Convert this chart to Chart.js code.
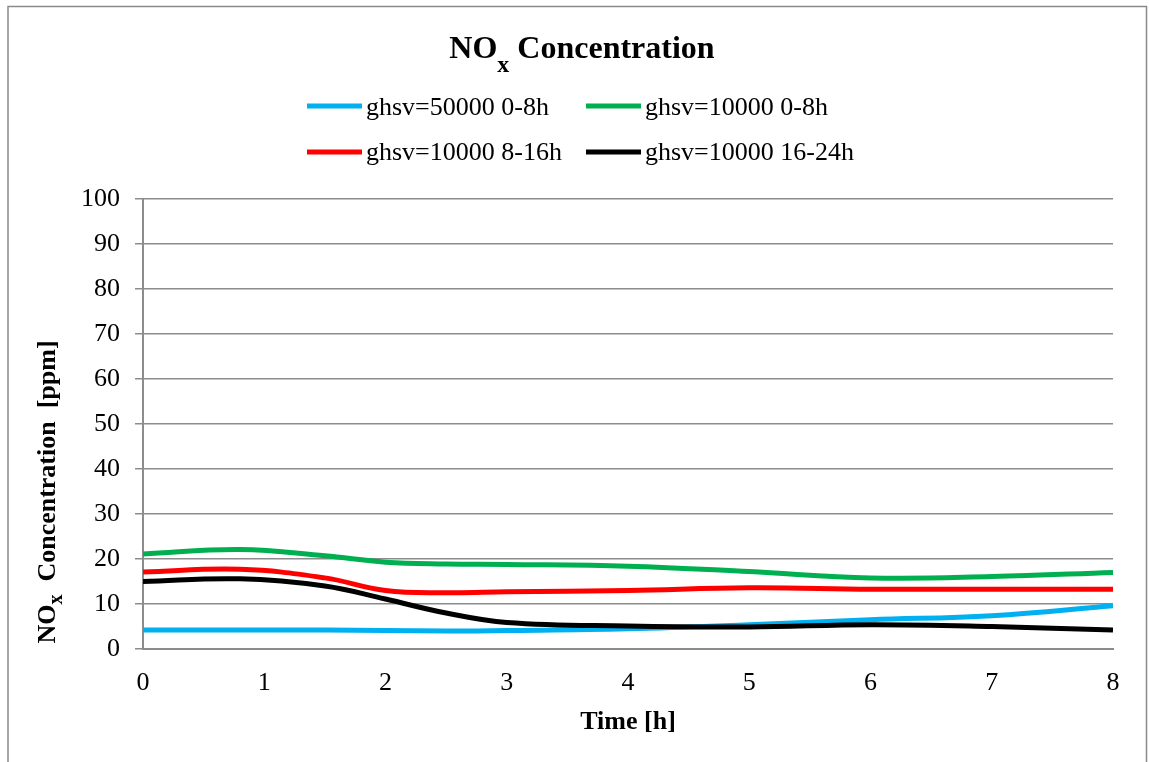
<!DOCTYPE html>
<html>
<head>
<meta charset="utf-8">
<title>NOx Concentration</title>
<script src="https://cdn.jsdelivr.net/npm/chart.js@4.4.1/dist/chart.umd.min.js"></script>
<style>
  html, body { margin: 0; padding: 0; background: #fff; }
  canvas { display: block; }
</style>
</head>
<body>
<canvas id="noxChart" width="1149" height="762"></canvas>
<script>
// Chart data
const times = [0, 0.8, 1.5, 2, 2.5, 3, 4, 5, 6, 7, 8];
const seriesLabels = ['ghsv=50000 0-8h', 'ghsv=10000 0-8h', 'ghsv=10000 8-16h', 'ghsv=10000 16-24h'];
const ghsv50000_0_8 = [4.2, 4.2, 4.2, 4.1, 4.0, 4.1, 4.5, 5.4, 6.5, 7.4, 9.6];
const ghsv10000_0_8 = [21.1, 22.1, 20.7, 19.3, 18.9, 18.8, 18.4, 17.2, 15.8, 16.1, 17.0];
const ghsv10000_8_16 = [17.1, 17.7, 15.8, 13.0, 12.5, 12.7, 13.0, 13.6, 13.3, 13.3, 13.3];
const ghsv10000_16_24 = [15.0, 15.6, 14.0, 11.1, 8.0, 5.9, 5.1, 4.9, 5.4, 5.0, 4.2];
const xTickLabels = ['0', '1', '2', '3', '4', '5', '6', '7', '8'];
const yTickLabels = ['0', '10', '20', '30', '40', '50', '60', '70', '80', '90', '100'];

const seriesValues = [ghsv50000_0_8, ghsv10000_0_8, ghsv10000_8_16, ghsv10000_16_24];
const seriesColors = ['#00b0f0', '#00b050', '#ff0000', '#000000'];

const FONT = '"Liberation Serif", "Times New Roman", serif';
const GRID = '#8c8c8c';

function toPoints(values) {
  return values.map((v, i) => ({ x: times[i], y: v }));
}

// text with a subscript part, drawn on the alphabetic baseline
function subText(ctx, parts, cx, baseY) {
  let total = 0;
  parts.forEach(p => { ctx.font = p.font; p.w = ctx.measureText(p.text).width; total += p.w; });
  let x = cx - total / 2;
  parts.forEach(p => {
    ctx.font = p.font;
    ctx.fillText(p.text, x, baseY + (p.dy || 0));
    x += p.w;
  });
}

// frame, title, legend and axis titles
const decorations = {
  id: 'decorations',
  afterDraw(chart) {
    const ctx = chart.ctx;
    const area = chart.chartArea;
    ctx.save();

    // outer frame
    ctx.strokeStyle = '#8a8a8a';
    ctx.lineWidth = 1.5;
    ctx.strokeRect(8, 6.5, 1138.5, 800);

    ctx.fillStyle = '#000';
    ctx.textBaseline = 'alphabetic';
    ctx.textAlign = 'left';

    // title
    subText(ctx, [
      { text: 'NO', font: 'bold 32px ' + FONT },
      { text: 'x', font: 'bold 24px ' + FONT, dy: 14 },
      { text: ' Concentration', font: 'bold 32px ' + FONT }
    ], 582, 58);

    // legend: 2 x 2
    ctx.font = '26px ' + FONT;
    const colX = [307, 586];
    const rowLine = [106, 152];
    const rowText = [115, 160];
    chart.data.datasets.forEach((ds, i) => {
      const x = colX[i % 2];
      const r = Math.floor(i / 2);
      ctx.strokeStyle = ds.borderColor;
      ctx.lineWidth = 5;
      ctx.beginPath();
      ctx.moveTo(x, rowLine[r]);
      ctx.lineTo(x + 55, rowLine[r]);
      ctx.stroke();
      ctx.fillText(ds.label, x + 59, rowText[r]);
    });

    // x axis title
    ctx.font = 'bold 26px ' + FONT;
    ctx.textAlign = 'center';
    ctx.fillText('Time [h]', (area.left + area.right) / 2, 729);
    ctx.textAlign = 'left';

    // y axis title, rotated
    ctx.translate(55, 492);
    ctx.rotate(-Math.PI / 2);
    subText(ctx, [
      { text: 'NO', font: 'bold 26px ' + FONT },
      { text: 'x', font: 'bold 20px ' + FONT, dy: 7 },
      { text: '  Concentration  [ppm]', font: 'bold 26px ' + FONT }
    ], 0, 0);

    ctx.restore();
  }
};

const ctxNox = document.getElementById('noxChart').getContext('2d');
const noxChart = new Chart(ctxNox, {
  type: 'line',
  data: {
    datasets: seriesLabels.map((label, i) => ({
      label: label,
      data: toPoints(seriesValues[i]),
      borderColor: seriesColors[i],
      backgroundColor: seriesColors[i],
      borderWidth: 5,
      pointRadius: 0,
      tension: 0.4,
      fill: false,
      order: seriesLabels.length - i
    }))
  },
  options: {
    responsive: false,
    animation: false,
    devicePixelRatio: 1,
    layout: { padding: { top: 199, right: 36, bottom: 0, left: 0 } },
    plugins: {
      legend: { display: false },
      title: { display: false },
      tooltip: { enabled: false }
    },
    scales: {
      x: {
        type: 'linear',
        min: 0,
        max: 8,
        afterFit(scale) { scale.height = 113; },
        afterBuildTicks(scale) {
          scale.ticks = xTickLabels.map(v => ({ value: Number(v) }));
        },
        ticks: {
          color: '#000',
          font: { family: FONT, size: 26 },
          padding: 19,
          maxRotation: 0,
          callback: (v) => String(v)
        },
        grid: { display: false, drawTicks: false },
        border: { display: true, color: GRID, width: 2 }
      },
      y: {
        min: 0,
        max: 100,
        afterFit(scale) { scale.width = 143; },
        afterBuildTicks(scale) {
          scale.ticks = yTickLabels.map(v => ({ value: Number(v) }));
        },
        ticks: {
          color: '#000',
          font: { family: FONT, size: 26 },
          padding: 15,
          callback: (v) => String(v)
        },
        grid: { color: GRID, lineWidth: 1.5, drawTicks: true, tickLength: 8 },
        border: { display: true, color: GRID, width: 2 }
      }
    }
  },
  plugins: [decorations]
});
</script>
</body>
</html>
